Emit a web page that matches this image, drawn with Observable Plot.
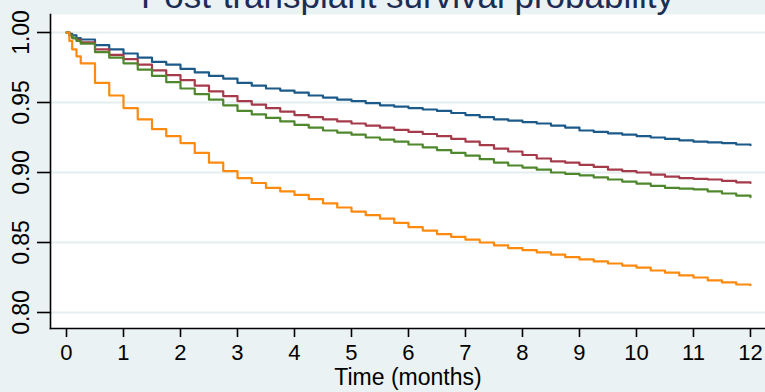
<!DOCTYPE html>
<html>
<head>
<meta charset="utf-8">
<script src="https://cdn.jsdelivr.net/npm/d3@7"></script>
<script src="https://cdn.jsdelivr.net/npm/@observablehq/plot@0.6"></script>
<style>
  html, body { margin: 0; padding: 0; background: #eaf2f3; }
  #wrap { position: relative; width: 765px; height: 392px; overflow: hidden; }
  #title {
    position: absolute; left: 50px; right: 0; top: -22px;
    text-align: center; font: 35px "Liberation Sans", Arial, sans-serif;
    line-height: 35px; color: #1c2c54; white-space: nowrap;
  }
</style>
</head>
<body>
<div id="wrap">
  <div id="title">Post-transplant survival probability</div>
  <div id="chart"></div>
</div>
<script>
// Time points (months) at which each survival estimate changes level
const months = [0, 0.05, 0.1, 0.175, 0.25, 0.5, 0.75, 1, 1.25, 1.5, 1.75, 2, 2.25, 2.5, 2.75,
                3, 3.25, 3.5, 3.75, 4, 4.25, 4.5, 4.75, 5, 5.25, 5.5, 5.75,
                6, 6.25, 6.5, 6.75, 7, 7.25, 7.5, 7.75, 8, 8.25, 8.5, 8.75,
                9, 9.25, 9.5, 9.75, 10, 10.25, 10.5, 10.75, 11, 11.25, 11.5, 11.75, 12];

// Kaplan–Meier survival estimates per group
const groupA = [1.000, 0.999, 0.998, 0.996, 0.995, 0.991, 0.988, 0.985, 0.982, 0.979, 0.977, 0.974, 0.9715, 0.969, 0.967,
                0.964, 0.962, 0.960, 0.9585, 0.957, 0.955, 0.9535, 0.952, 0.951, 0.9495, 0.948, 0.947,
                0.946, 0.945, 0.944, 0.9425, 0.941, 0.9395, 0.938, 0.937, 0.936, 0.935, 0.9335, 0.932,
                0.930, 0.929, 0.928, 0.927, 0.926, 0.925, 0.924, 0.923, 0.922, 0.9215, 0.921, 0.920, 0.9195];
const groupB = [1.000, 0.998, 0.996, 0.995, 0.993, 0.988, 0.984, 0.981, 0.977, 0.973, 0.9695, 0.966, 0.962, 0.958, 0.9545,
                0.951, 0.9485, 0.946, 0.9435, 0.941, 0.9395, 0.938, 0.9365, 0.935, 0.9335, 0.932, 0.9305,
                0.929, 0.9275, 0.926, 0.924, 0.922, 0.9195, 0.917, 0.915, 0.9125, 0.910, 0.908, 0.907,
                0.9055, 0.904, 0.902, 0.901, 0.900, 0.8985, 0.897, 0.896, 0.8955, 0.895, 0.894, 0.893, 0.8925];
const groupC = [1.000, 0.998, 0.996, 0.994, 0.992, 0.986, 0.982, 0.978, 0.9735, 0.969, 0.9645, 0.960, 0.956, 0.952, 0.948,
                0.944, 0.9415, 0.939, 0.9365, 0.934, 0.932, 0.930, 0.9285, 0.927, 0.925, 0.9235, 0.922,
                0.920, 0.918, 0.916, 0.914, 0.912, 0.9095, 0.907, 0.905, 0.9035, 0.902, 0.900, 0.899,
                0.898, 0.8965, 0.895, 0.8935, 0.892, 0.8905, 0.889, 0.8885, 0.888, 0.8865, 0.885, 0.8835, 0.8824];
const groupD = [1.000, 0.994, 0.988, 0.983, 0.978, 0.964, 0.955, 0.946, 0.938, 0.931, 0.926, 0.921, 0.914, 0.907, 0.901,
                0.896, 0.8925, 0.889, 0.8865, 0.884, 0.881, 0.878, 0.875, 0.872, 0.8695, 0.867, 0.864,
                0.861, 0.8585, 0.856, 0.854, 0.852, 0.850, 0.848, 0.846, 0.8445, 0.843, 0.8414, 0.8395,
                0.838, 0.8365, 0.835, 0.8335, 0.832, 0.830, 0.8285, 0.8265, 0.825, 0.823, 0.8215, 0.820, 0.8195];

const groups = ["A", "B", "C", "D"];
const groupColors = ["#1c5a8a", "#a53a4a", "#4f872c", "#fb8a0e"];

const xTicks = [0, 1, 2, 3, 4, 5, 6, 7, 8, 9, 10, 11, 12];
const yTicks = [0.80, 0.85, 0.90, 0.95, 1.00];

const series = {A: groupA, B: groupB, C: groupC, D: groupD};
const rows = groups.flatMap(g => months.map((t, i) => ({group: g, t, s: series[g][i]})));

const font = "Liberation Sans, Arial, sans-serif";

const chart = Plot.plot({
  width: 765,
  height: 392,
  marginLeft: 50,
  marginRight: 0,
  marginTop: 14,
  marginBottom: 64,
  style: {background: "#eaf2f3", fontFamily: font, color: "#000", overflow: "visible"},
  x: {domain: [-0.2807, 12.2637]},
  y: {domain: [0.788571, 1.012857]},
  color: {domain: groups, range: groupColors},
  marks: [
    Plot.frame({fill: "white", stroke: null}),
    Plot.ruleY(yTicks, {stroke: "#e4eef0", strokeWidth: 2}),
    Plot.line(rows, {x: "t", y: "s", z: "group", stroke: "group", curve: "step-after", strokeWidth: 2.2}),
    Plot.frame({anchor: "left", stroke: "#000", strokeWidth: 1.6}),
    Plot.frame({anchor: "bottom", stroke: "#000", strokeWidth: 1.6}),
    Plot.axisX({ticks: xTicks, tickSize: 9, tickPadding: 7, fontSize: 22, tickFormat: d => String(d),
                label: null, strokeWidth: 1.6}),
    Plot.axisY({ticks: yTicks, tickSize: 13, tickFormat: () => "", label: null, strokeWidth: 1.6}),
    Plot.text(yTicks, {y: d => d, text: d => d.toFixed(2), frameAnchor: "left", dx: -29,
                       rotate: -90, textAnchor: "middle", lineAnchor: "middle", fontSize: 23, fill: "#000"}),
    Plot.text(["Time (months)"], {frameAnchor: "bottom", dy: 56, fontSize: 23, fill: "#000"})
  ]
});

document.getElementById("chart").appendChild(chart);
</script>
</body>
</html>
